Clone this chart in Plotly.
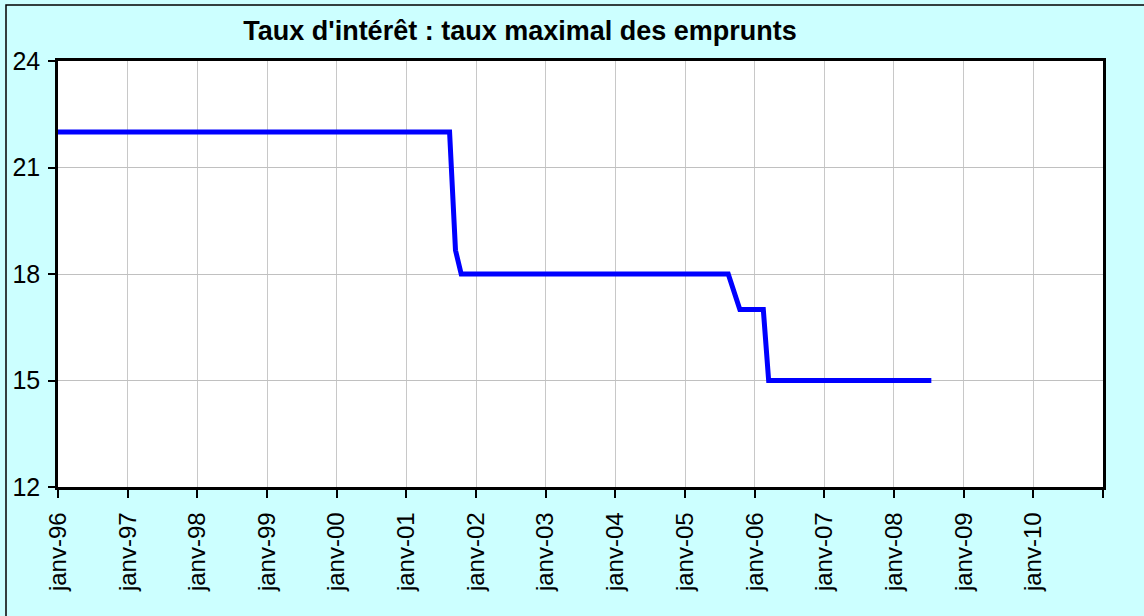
import plotly.graph_objects as go

# Maximum borrowing rate (%), vertices of the monthly series
dates = ["1996-01-01", "2001-08-15", "2001-09-15", "2001-10-15",
         "2005-08-15", "2005-10-15", "2006-02-15", "2006-03-15", "2008-07-15"]
rates = [22, 22, 18.67, 18, 18, 17, 17, 15, 15]

# Yearly axis ticks
tick_dates = [f"{y}-01-01" for y in range(1996, 2012)]
tick_labels = ["janv-96", "janv-97", "janv-98", "janv-99", "janv-00", "janv-01",
               "janv-02", "janv-03", "janv-04", "janv-05", "janv-06", "janv-07",
               "janv-08", "janv-09", "janv-10", ""]

y_ticks = [12, 15, 18, 21, 24]

font_family = "Liberation Sans, Arial, sans-serif"

fig = go.Figure()
fig.add_trace(go.Scatter(
    x=dates, y=rates, mode="lines",
    line=dict(color="#0000FF", width=5),
    hoverinfo="x+y", showlegend=False,
))

L, R, T, B = 58, 41, 61, 129
W, H = 1144, 616
pw, ph = W - L - R, H - T - B

fig.update_layout(
    width=W, height=H,
    margin=dict(l=L, r=R, t=T, b=B, pad=0, autoexpand=False),
    paper_bgcolor="#CCFFFF",
    plot_bgcolor="#FFFFFF",
    font=dict(family=font_family, color="#000000"),
    title=dict(
        text="<b>Taux d'intérêt : taux maximal des emprunts</b>",
        x=520 / W, xanchor="center", xref="container",
        y=1 - 31 / H, yanchor="middle", yref="container",
        font=dict(size=27, family=font_family, color="#000000"),
    ),
    xaxis=dict(
        type="date",
        range=["1996-01-01", "2011-01-01"],
        tickmode="array", tickvals=tick_dates, ticktext=tick_labels,
        tickangle=-90,
        tickfont=dict(size=24),
        ticks="outside", ticklen=8, tickwidth=2, tickcolor="#000000",
        showgrid=True, gridcolor="#C8C8C8", gridwidth=1,
        showline=True, linecolor="#000000", linewidth=2.5, mirror=True,
        zeroline=False, automargin=False,
        ticklabelstandoff=5,
    ),
    yaxis=dict(
        range=[12, 24],
        tickmode="array", tickvals=y_ticks,
        tickfont=dict(size=25),
        ticks="outside", ticklen=7, tickwidth=2, tickcolor="#000000",
        showgrid=True, gridcolor="#C0C0C0", gridwidth=1,
        showline=True, linecolor="#000000", linewidth=2.5, mirror=True,
        zeroline=False, automargin=False,
        ticklabelstandoff=3,
    ),
)

# Outer chart frame (left and top edges visible)
fig.add_shape(
    type="rect", xref="paper", yref="paper",
    x0=(6 - L) / pw, x1=(W + 20 - L) / pw,
    y0=-(H + 20 - (H - B)) / ph, y1=(H - B - 5) / ph,
    line=dict(color="#000000", width=1.5), fillcolor="rgba(0,0,0,0)",
    layer="below",
)

fig.write_html("out.html")
